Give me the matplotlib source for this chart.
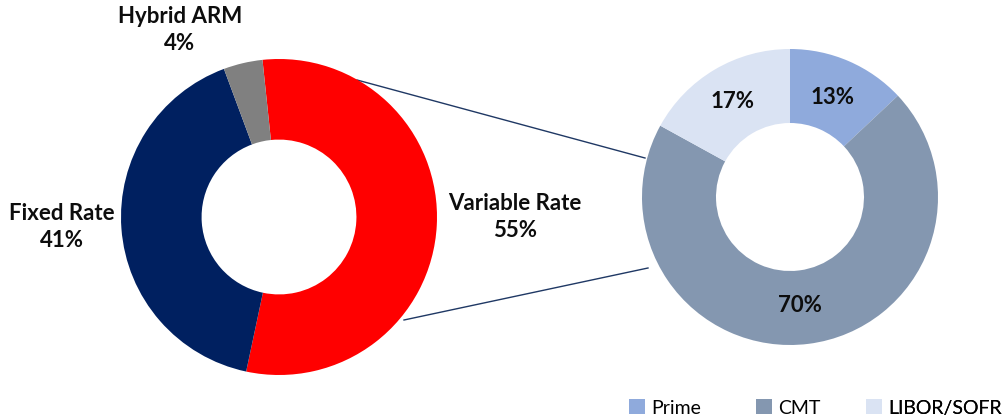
import matplotlib
matplotlib.use("Agg")
import matplotlib.pyplot as plt
import numpy as np
from matplotlib.patches import Patch

# ---- data ----
left_labels = ["Variable Rate", "Fixed Rate", "Hybrid ARM"]
left_values = [55, 41, 4]
right_labels = ["Prime", "CMT", "LIBOR/SOFR"]
right_values = [13, 70, 17]

# ---- styles ----
left_colors = ["#FF0000", "#002060", "#808080"]
right_colors = ["#8FAADC", "#8497B0", "#DAE3F3"]
W, H = 1007, 420
FONT = ["Lato", "DejaVu Sans"]

fig = plt.figure(figsize=(W / 100, H / 100), dpi=100)
ax = fig.add_axes([0, 0, 1, 1])

def P(x, y):
    return (x, H - y)

lc = P(279, 217); lr = 158
rc = P(790, 197); rr = 148

ax.pie(left_values, colors=left_colors, startangle=96, counterclock=False,
       center=lc, radius=lr, wedgeprops=dict(width=lr * 0.51, linewidth=0))
ax.pie(right_values, colors=right_colors, startangle=90, counterclock=False,
       center=rc, radius=rr, wedgeprops=dict(width=rr * 0.50, linewidth=0))

# connector lines
for (x1, y1), (x2, y2) in [((357, 80), (645, 158)), ((404, 320), (648, 268))]:
    a, b = P(x1, y1), P(x2, y2)
    ax.plot([a[0], b[0]], [a[1], b[1]], color="#1F3864", lw=1.0, zorder=0)

tkw = dict(fontsize=16, fontweight="bold", family=FONT, ha="center", va="center",
           color="#0D0D0D", linespacing=1.38)
ax.text(*P(180, 30), f"{left_labels[2]}\n{left_values[2]}%", **tkw)
ax.text(*P(62, 227), f"{left_labels[1]}\n{left_values[1]}%", **tkw)
ax.text(*P(515, 217), f"{left_labels[0]}\n{left_values[0]}%", **tkw)

ax.text(*P(833, 98), f"{right_values[0]}%", **tkw)
ax.text(*P(800, 305), f"{right_values[1]}%", **tkw)
ax.text(*P(733, 101), f"{right_values[2]}%", **tkw)

# legend: one entry per slot, placed like the reference
slots = [629, 756, 866]
for lab, col, x0 in zip(right_labels, right_colors, slots):
    leg = ax.legend([Patch(facecolor=col, edgecolor="none")], [lab], loc="lower left",
                    bbox_to_anchor=(x0 / W, 0.008), bbox_transform=fig.transFigure,
                    frameon=False, prop=dict(family=FONT, size=14),
                    handlelength=0.8, handleheight=0.8, handletextpad=0.35,
                    borderaxespad=0, borderpad=0.0)
    ax.add_artist(leg)

ax.set_xlim(0, W)
ax.set_ylim(0, H)
ax.set_aspect("equal")
ax.axis("off")

fig.savefig("out.png", dpi=100)
